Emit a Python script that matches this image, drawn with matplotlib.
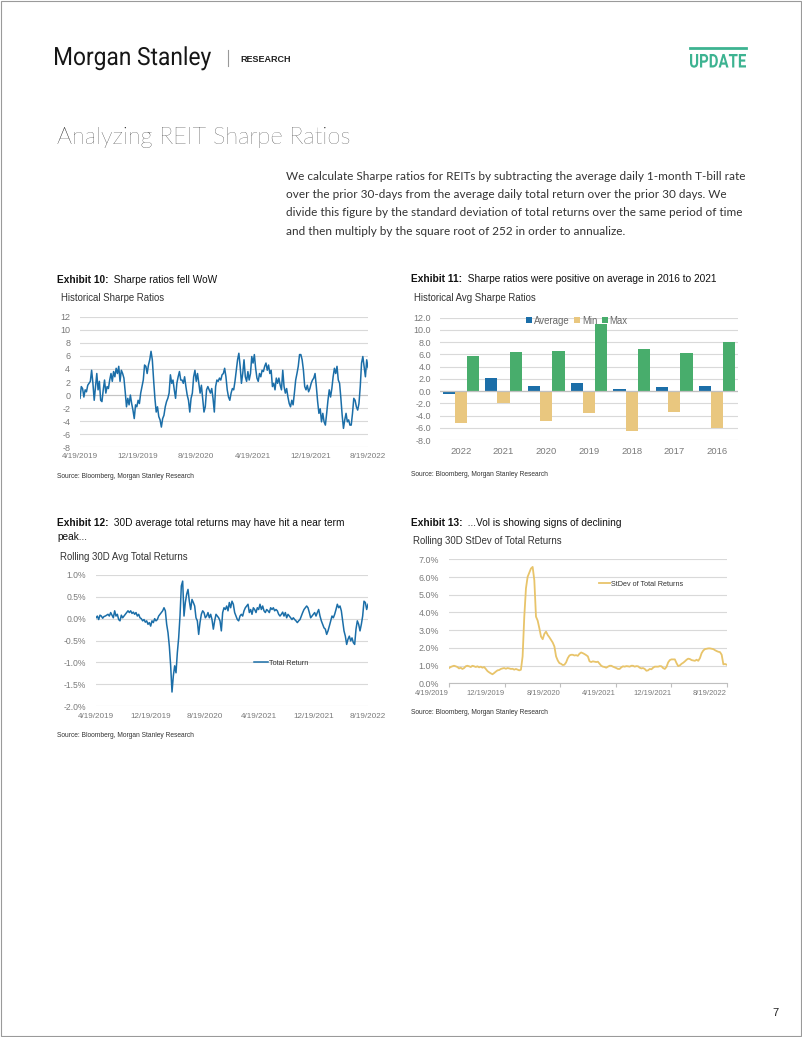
import numpy as np
import pandas as pd
import matplotlib
matplotlib.use("Agg")
import matplotlib.pyplot as plt
from matplotlib.patches import Rectangle, PathPatch
from matplotlib.textpath import TextPath
from matplotlib.font_manager import FontProperties
from matplotlib.transforms import Affine2D

W, H = 802, 1037
plt.rcParams['font.family'] = ['Liberation Sans', 'DejaVu Sans']

# --- data ---
tick_dates = pd.to_datetime(['2019-04-19', '2019-12-19', '2020-08-19',
                             '2021-04-19', '2021-12-19', '2022-08-19'])
tick_labels = ['4/19/2019', '12/19/2019', '8/19/2020', '4/19/2021', '12/19/2021', '8/19/2022']

# Exhibit 10: historical sharpe ratios
sharpe = [
    -0.5, 1.3, 1.0, -0.3, 0.8, 0.5, 1.5, 1.8, 2.1, 3.8,
    1.8, -0.8, 1.3, 3.3, 0.8, 2.1, -0.8, -1.0, 0.8, 2.3,
    0.3, 1.3, 1.0, 2.3, 3.3, 2.1, 3.6, 2.8, 4.1, 3.3,
    4.4, 2.1, 3.8, 3.3, 2.6, 0.5, -1.8, -0.5, -1.5, 0.0,
    -1.3, -2.3, -3.6, -1.5, -1.8, -0.8, -1.3, 0.3, 1.3, 2.3,
    4.6, 4.4, 3.3, 4.6, 5.4, 6.7, 5.4, 2.3, -0.5, -2.6,
    -1.8, -3.3, -3.8, -4.9, -3.6, -3.1, -1.8, -1.0, -0.5, 0.3,
    3.1, 1.8, 2.3, 0.8, -0.5, 1.8, 2.8, 3.6, 2.3, 2.3,
    1.8, 2.8, 1.3, 0.0, -0.8, -2.6, -0.5, 0.3, 2.8, 3.8,
    2.1, 3.3, 1.8, 0.3, 1.5, -0.5, -2.6, -1.8, 0.8, 1.3,
    0.8, 0.3, 1.0, -0.5, -2.6, 1.3, 2.3, 2.1, 2.6, 2.3,
    3.1, 3.3, 4.1, 2.8, 0.8,
    -0.3, -0.8, 0.3, 1.0, 0.8, 2.1, 3.8, 5.4, 6.4, 4.4,
    1.8, 3.3, 5.4, 2.8, 2.1, 3.6, 2.3, 3.3, 5.9, 4.9,
    6.2, 4.1, 2.6, 2.1, 3.3, 2.8, 3.8, 3.6, 4.4, 4.9,
    3.8, 4.6, 3.3, 3.8, 1.3, 1.8, 0.8, 2.6, 1.8, 2.6,
    1.5, 0.8, 3.8, 1.3, 0.3, 1.0, -0.3, -1.3, -1.8, -0.8,
    -1.5, 0.3, 2.3, 3.3, 4.4, 6.2, 6.2, 5.4, 3.8, 1.3,
    0.8, 1.5, 0.5, 1.0, 1.8, 2.3, 2.6, 3.3, 1.3, -1.0,
    -2.8, -2.1, -4.1, -2.8, -4.1, -4.6, -2.8, -0.8, 0.8, -0.3,
    1.0, 2.8, 4.1, 3.3, 4.4, 2.3, 1.8, -0.5, -3.1, -5.1,
    -3.8, -2.8, -4.1, -3.8, -4.6, -4.6, -2.8, -0.5, -0.8, -1.8,
    -2.3, -1.3, 1.3, 4.9, 5.9, 4.4, 2.8, 5.4, 4.2,
]

# Exhibit 11: yearly avg / min / max sharpe
years = ['2022', '2021', '2020', '2019', '2018', '2017', '2016']
avg_sharpe = [-0.4, 2.2, 0.8, 1.4, 0.3, 0.7, 0.8]
min_sharpe = [-5.3, -1.9, -4.9, -3.6, -6.5, -3.5, -6.0]
max_sharpe = [5.8, 6.4, 6.5, 10.9, 6.9, 6.2, 8.0]

# Exhibit 12: rolling 30d avg total return (%)
avg_ret = [
    0.02, 0.06, -0.02, 0.08, 0.06, 0.01, 0.05, 0.06, 0.08, 0.10,
    0.06, 0.14, 0.08, 0.02, 0.18, 0.06, 0.10, -0.02, -0.05, 0.08,
    0.02, 0.06, 0.10, 0.14, 0.18, 0.14, 0.18, 0.12, 0.15, 0.10,
    0.14, 0.06, 0.10, 0.02, 0.00, -0.05, -0.02, -0.08, -0.05, -0.13,
    -0.09, -0.17, -0.05, -0.09, 0.00, -0.05, -0.02, 0.06, 0.10, 0.14,
    0.18, 0.25, 0.18, -0.13, -0.32, -0.63, -1.08, -1.68, -1.31, -1.08,
    -1.24, -0.78, -0.44, 0.06, 0.75, 0.86, 0.06, 0.37, 0.56, 0.67,
    0.40, 0.21, 0.44, 0.37, 0.29, 0.02, -0.05, -0.36, -0.09, 0.10,
    0.18, 0.14, 0.02, 0.06, 0.14, 0.02, 0.10, -0.02, -0.24, -0.05,
    0.10, 0.06, 0.02, -0.05, -0.28, 0.14, 0.25,
    0.21, 0.29, 0.18, 0.37, 0.25, 0.40, 0.33, 0.14, 0.06, -0.02,
    -0.05, 0.06, 0.10, 0.06, 0.18, 0.25, 0.29, 0.33, 0.14, 0.21,
    0.10, 0.25, 0.21, 0.14, 0.25, 0.21, 0.33, 0.21, 0.29, 0.18,
    0.14, 0.21, 0.18, 0.14, 0.25, 0.21, 0.25, 0.18, 0.21, 0.18,
    0.10, 0.06, 0.10, 0.15, 0.06, 0.14, 0.02, 0.10, 0.06, 0.02,
    -0.02, 0.02, -0.02, -0.05, -0.09, -0.05, -0.02, 0.06, 0.14, 0.21,
    0.25, 0.29, 0.25, 0.14, 0.02, 0.06, 0.10, 0.14, 0.06, 0.14,
    0.21, 0.06, -0.05, -0.13, -0.21, -0.24, -0.36, -0.28, -0.17, -0.05,
    0.06, 0.02, 0.10, 0.21, 0.33, 0.25, 0.29, 0.18, -0.05, -0.28,
    -0.40, -0.59, -0.47, -0.40, -0.51, -0.44, -0.55, -0.59, -0.24, -0.05,
    -0.13, -0.28, -0.13, 0.06, 0.40, 0.37, 0.21, 0.33,
]

# Exhibit 13: rolling 30d stdev of total returns (%)
std_ret = [
    0.86, 0.92, 0.96, 0.99, 0.96, 0.92, 0.84, 0.88, 0.81, 0.86,
    0.96, 0.99, 0.96, 0.92, 0.99, 0.96, 0.92, 0.96, 0.90, 0.94,
    0.88, 0.92, 0.81, 0.69, 0.62, 0.56, 0.51, 0.58, 0.66, 0.73,
    0.75, 0.81, 0.84, 0.86, 0.82, 0.86, 0.84, 0.81, 0.82, 0.77,
    0.81, 0.77, 0.73, 0.77, 1.52, 3.76, 5.36, 6.01, 6.24, 6.48,
    6.57, 5.82, 3.76, 3.54, 3.11, 2.64, 2.49, 2.79, 2.92, 2.73,
    2.60, 2.45, 2.30, 2.08, 1.52, 1.29, 1.14, 1.10, 1.03, 1.05,
    1.18, 1.42, 1.57, 1.61, 1.61, 1.57, 1.59, 1.55, 1.67, 1.74,
    1.70, 1.65, 1.59, 1.52, 1.24, 1.20, 1.24, 1.22, 1.20, 1.22,
    1.10, 0.99, 0.94, 0.92, 0.88, 0.94, 0.99, 0.99, 0.94, 0.90,
    0.86, 0.81, 0.81, 0.90, 0.96, 0.94, 0.97, 0.96, 0.94, 0.99,
    0.99, 0.94, 0.97, 0.96, 0.88, 0.84, 0.86, 0.81, 0.71, 0.73,
    0.81, 0.79, 0.88, 0.94, 0.94, 0.94, 0.97, 0.96, 0.86, 0.81,
    0.92, 1.18, 1.31, 1.35, 1.35, 1.35, 1.14, 0.97, 1.01, 1.10,
    1.16, 1.24, 1.33, 1.39, 1.37, 1.31, 1.29, 1.27, 1.33, 1.27,
    1.42, 1.70, 1.85, 1.93, 1.95, 1.97, 1.97, 1.95, 1.93, 1.87,
    1.82, 1.78, 1.76, 1.61, 1.07, 1.09, 1.05,
]

BLUE = '#1b6ea8'
TAN = '#e9c77f'
GREEN = '#48ad6c'
GOLD = '#e8c46a'
GRID = '#d9d9d9'
TICK = '#7a7a7a'
TEAL = '#3db391'

fig = plt.figure(figsize=(W / 100, H / 100), dpi=100)

# page layer in pixel coordinates
pg = fig.add_axes([0, 0, 1, 1], zorder=-1)
pg.set_xlim(0, W)
pg.set_ylim(H, 0)
pg.axis('off')
pg.add_patch(Rectangle((0.5, 0.5), W - 1.5, H - 1.5, fill=False, ec='#9a9a9a', lw=0.8))


def add_box(x0, y0, x1, y1):
    ax = fig.add_axes([x0 / W, 1 - y1 / H, (x1 - x0) / W, (y1 - y0) / H])
    for s in ax.spines.values():
        s.set_visible(False)
    ax.set_axisbelow(True)
    return ax


def fig_xy(x, y):
    return (x / W, 1 - y / H)


def squeezed_text(s, x, baseline, width, size, color, weight='normal'):
    # narrow logo lettering: text path squeezed to the wanted width
    tp = TextPath((0, 0), s, size=size, prop=FontProperties(family='Roboto', weight=weight))
    bb = tp.get_extents()
    sx = width / bb.width
    tr = Affine2D().translate(-bb.x0, 0).scale(sx, -1).translate(x, baseline) + pg.transData
    pg.add_patch(PathPatch(tp, transform=tr, fc=color, ec='none'))


def exhibit(x, y, num, text):
    t = pg.text(x, y, 'Exhibit %d:' % num, fontsize=7.3, weight='bold', va='center', color='#111111')
    pg.annotate('  ' + text, xy=(1, 0.5), xycoords=t, va='center', ha='left',
                fontsize=7.3, color='#111111')


# header
squeezed_text('Morgan Stanley', 55, 65, 156, 25, '#161616', weight='normal')
pg.plot([228, 228], [50, 66], color='#999999', lw=0.8)
pg.text(240, 62, 'RESEARCH', fontsize=6.5, weight='bold', color='#222222', va='baseline')
pg.plot([690, 746], [48, 48], color=TEAL, lw=2)
squeezed_text('UPDATE', 690, 67.5, 56, 19, TEAL, weight='bold')

pg.text(57, 144, 'Analyzing REIT Sharpe Ratios', family=['Lato', 'DejaVu Sans'], weight='light',
        fontsize=17, color='#111111', va='baseline')

para = ["We calculate Sharpe ratios for REITs by subtracting the average daily 1-month T-bill rate",
        "over the prior 30-days from the average daily total return over the prior 30 days. We",
        "divide this figure by the standard deviation of total returns over the same period of time",
        "and then multiply by the square root of 252 in order to annualize."]
for i, line in enumerate(para):
    pg.text(286, 176 + i * 18.4, line, family=['Lato', 'DejaVu Sans'], fontsize=8.5,
            color='#333333', va='center')

# ---------------- Exhibit 10 ----------------
exhibit(57, 280, 10, 'Sharpe ratios fell WoW')
pg.text(61, 298, 'Historical Sharpe Ratios', fontsize=6.9, color='#333333', va='center')
ax1 = add_box(80, 316.7, 368, 447.3)
d1 = pd.date_range(tick_dates[0], tick_dates[-1], periods=len(sharpe))
ax1.plot(d1, sharpe, color=BLUE, lw=1.1)
ax1.set_xlim(tick_dates[0], tick_dates[-1])
ax1.set_ylim(-8, 12)
yt = list(range(-8, 13, 2))
ax1.set_yticks(yt)
ax1.set_yticklabels([str(v) for v in yt])
ax1.grid(axis='y', color=GRID, lw=0.8)
ax1.axhline(0, color='#c4c4c4', lw=0.8, zorder=1)
ax1.set_xticks(tick_dates)
ax1.set_xticklabels(tick_labels)
ax1.tick_params(axis='y', length=0, pad=7, labelsize=6.5, labelcolor=TICK)
ax1.tick_params(axis='x', length=0, pad=4, labelsize=5.9, labelcolor=TICK)
pg.text(57, 476, 'Source: Bloomberg, Morgan Stanley Research', fontsize=4.8, color='#333333', va='center')

# ---------------- Exhibit 11 ----------------
exhibit(411, 279, 11, 'Sharpe ratios were positive on average in 2016 to 2021')
pg.text(414, 298, 'Historical Avg Sharpe Ratios', fontsize=6.9, color='#333333', va='center')
ax2 = add_box(439.5, 317.7, 738.4, 440)
x = np.arange(len(years))
bw = 0.286
ax2.bar(x - bw, avg_sharpe, bw, color=BLUE, label='Average')
ax2.bar(x, min_sharpe, bw, color=TAN, label='Min')
ax2.bar(x + bw, max_sharpe, bw, color=GREEN, label='Max')
ax2.set_xlim(-0.5, 6.5)
ax2.set_ylim(-8, 12)
yt2 = np.arange(-8, 13, 2)
ax2.set_yticks(yt2)
ax2.set_yticklabels(['%.1f' % v for v in yt2])
ax2.set_xticks(x)
ax2.set_xticklabels(years)
ax2.grid(axis='y', color=GRID, lw=0.8)
ax2.axhline(0, color='#bfbfbf', lw=0.9, zorder=1)
ax2.tick_params(axis='y', length=0, pad=6, labelsize=6.5, labelcolor=TICK)
ax2.tick_params(axis='x', length=0, pad=5, labelsize=6.8, labelcolor=TICK)
ax2.legend(ncol=3, loc='center', bbox_to_anchor=fig_xy(577, 320.7), bbox_transform=fig.transFigure,
           frameon=False, fontsize=6.9, labelcolor='#6a6a6a', handlelength=0.6, handleheight=0.6,
           handletextpad=0.2, columnspacing=0.5, borderpad=0)
pg.text(411, 475, 'Source: Bloomberg, Morgan Stanley Research', fontsize=4.8, color='#333333', va='center')

# ---------------- Exhibit 12 ----------------
exhibit(57, 523, 12, '30D average total returns may have hit a near term')
pg.text(57, 537.5, 'peak...', fontsize=7.3, color='#111111', va='center')
pg.text(60, 556.5, 'Rolling 30D Avg Total Returns', fontsize=6.9, color='#333333', va='center')
ax3 = add_box(96, 575, 368, 706)
d3 = pd.date_range(tick_dates[0], tick_dates[-1], periods=len(avg_ret))
ax3.plot(d3, avg_ret, color=BLUE, lw=1.1, label='Total Return')
ax3.set_xlim(tick_dates[0], tick_dates[-1])
ax3.set_ylim(-2.0, 1.0)
yt3 = [-2.0, -1.5, -1.0, -0.5, 0.0, 0.5, 1.0]
ax3.set_yticks(yt3)
ax3.set_yticklabels(['%.1f%%' % v for v in yt3])
ax3.grid(axis='y', color=GRID, lw=0.8)
ax3.set_xticks(tick_dates)
ax3.set_xticklabels(tick_labels)
ax3.tick_params(axis='y', length=0, pad=7, labelsize=6.2, labelcolor=TICK)
ax3.tick_params(axis='x', length=0, pad=5, labelsize=5.9, labelcolor=TICK)
ax3.legend(loc='center left', bbox_to_anchor=fig_xy(254, 663.3), bbox_transform=fig.transFigure,
           frameon=False, fontsize=5.3, labelcolor='#333333', handlelength=1.9,
           handletextpad=0.15, borderpad=0, borderaxespad=0)
pg.text(57, 735.5, 'Source: Bloomberg, Morgan Stanley Research', fontsize=4.8, color='#333333', va='center')

# ---------------- Exhibit 13 ----------------
exhibit(411, 522.5, 13, '...Vol is showing signs of declining')
pg.text(413, 541.5, 'Rolling 30D StDev of Total Returns', fontsize=6.9, color='#333333', va='center')
ax4 = add_box(449, 559.3, 726.7, 683.3)
d4 = pd.date_range(tick_dates[0], tick_dates[-1], periods=len(std_ret))
ax4.plot(d4, std_ret, color=GOLD, lw=1.3, label='StDev of Total Returns')
ax4.set_xlim(tick_dates[0], tick_dates[-1])
ax4.set_ylim(0, 7)
yt4 = list(range(0, 8))
ax4.set_yticks(yt4)
ax4.set_yticklabels(['%.1f%%' % v for v in yt4])
ax4.grid(axis='y', color=GRID, lw=0.8)
ax4.spines['bottom'].set_visible(True)
ax4.spines['bottom'].set_color('#bfbfbf')
ax4.set_xticks(tick_dates)
ax4.set_xticklabels(tick_labels, ha='right')
ax4.tick_params(axis='y', length=0, pad=7, labelsize=6.4, labelcolor=TICK)
ax4.tick_params(axis='x', length=3, direction='out', color='#bfbfbf', pad=2,
                labelsize=5.5, labelcolor=TICK)
ax4.legend(loc='center left', bbox_to_anchor=fig_xy(599, 584.3), bbox_transform=fig.transFigure,
           frameon=False, fontsize=5.2, labelcolor='#333333', handlelength=1.5,
           handletextpad=0.15, borderpad=0, borderaxespad=0)
pg.text(411, 712.3, 'Source: Bloomberg, Morgan Stanley Research', fontsize=4.8, color='#333333', va='center')

pg.text(772, 1013, '7', fontsize=8, color='#222222', va='center')

fig.savefig('out.png', dpi=100)
